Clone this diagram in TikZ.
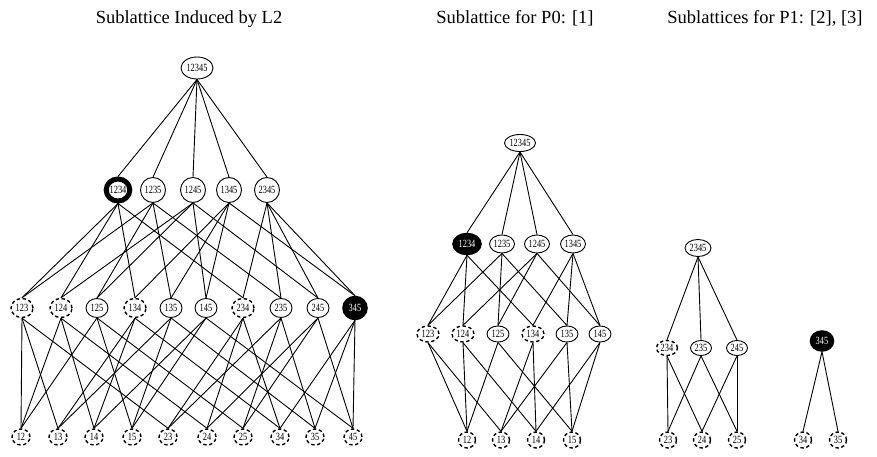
\documentclass[tikz,border=0pt]{standalone}
\usepackage{fontspec}
\setmainfont{Liberation Serif}
\newfontfamily\lblfont[FakeStretch=0.76]{Liberation Serif}
\usetikzlibrary{shapes.geometric}
\tikzset{
  nd/.style={ellipse, draw=black, line width=0.9pt, fill=white, inner sep=0pt,
    font=\lblfont\fontsize{11}{11}\selectfont},
  dsh/.style={nd, line width=1.4pt, dash pattern=on 3.4pt off 2.6pt},
  mk/.style={nd, line width=4.5pt, fill=black, text=white},
  mkw/.style={nd, line width=5pt, fill=white, text=black},
  edge/.style={line width=0.9pt, black},
  ttl/.style={font=\fontsize{18.5}{20}\selectfont, anchor=base, inner sep=0pt},
  % sizes
  LT/.style={minimum width=32pt, minimum height=22pt},
  L4/.style={minimum width=25pt, minimum height=25pt},
  L3/.style={minimum width=22pt, minimum height=19pt},
  L2/.style={minimum width=18pt, minimum height=16pt},
  MT/.style={minimum width=31pt, minimum height=17pt},
  M4/.style={minimum width=25pt, minimum height=18pt},
  M3/.style={minimum width=22pt, minimum height=16pt},
  M2/.style={minimum width=17pt, minimum height=16pt},
  R3/.style={minimum width=21pt, minimum height=15pt},
}
\begin{document}
\begin{tikzpicture}[x=1pt,y=-1pt]
\useasboundingbox (0,0) rectangle (877,457);
% titles
\node[ttl] (t1) at (189,24) {Sublattice Induced by L2};
\node[ttl] (t2) at (515,24) {Sublattice for P0: [1]};
\node[ttl] (t3) at (765,24) {Sublattices for P1: [2], [3]};

% ---------- Left lattice ----------
\node[nd,LT] (L12345) at (197,68) {12345};
\node[mkw,minimum width=22pt,minimum height=22pt] (L1234) at (118,190) {1234};
\node[nd,L4] (L1235) at (153,190) {1235};
\node[nd,L4] (L1245) at (193,190) {1245};
\node[nd,L4] (L1345) at (229,190) {1345};
\node[nd,L4] (L2345) at (267,190) {2345};

\node[dsh,L3] (L123) at (22,308) {123};
\node[dsh,L3] (L124) at (61,308) {124};
\node[nd,L3]  (L125) at (97,308) {125};
\node[dsh,L3] (L134) at (135,308) {134};
\node[nd,L3]  (L135) at (171,308) {135};
\node[nd,L3]  (L145) at (206,308) {145};
\node[dsh,L3] (L234) at (243,308) {234};
\node[nd,L3]  (L235) at (281,308) {235};
\node[nd,L3]  (L245) at (318,308) {245};
\node[mk,minimum width=21pt,minimum height=20pt] (L345) at (355,308) {345};

\foreach \n/\x in {12/21,13/58,14/94,15/132,23/168,24/207,25/243,34/280,35/315,45/353}
  \node[dsh,L2] (L\n) at (\x,437) {\n};

\foreach \a in {1234,1235,1245,1345,2345}
  \draw[edge] (L12345.south) -- (L\a.north);
\foreach \a/\b in {1234/123,1234/124,1234/134,1234/234,
                   1235/123,1235/125,1235/135,1235/235,
                   1245/124,1245/125,1245/145,1245/245,
                   1345/134,1345/135,1345/145,1345/345,
                   2345/234,2345/235,2345/245,2345/345}
  \draw[edge] (L\a.south) -- (L\b.north);
\foreach \a/\b in {123/12,123/13,123/23,124/12,124/14,124/24,125/12,125/15,125/25,
                   134/13,134/14,134/34,135/13,135/15,135/35,145/14,145/15,145/45,
                   234/23,234/24,234/34,235/23,235/25,235/35,245/24,245/25,245/45,
                   345/34,345/35,345/45}
  \draw[edge] (L\a.south) -- (L\b.north);

% ---------- Middle lattice ----------
\node[nd,MT] (M12345) at (520,143) {12345};
\node[mk,minimum width=25pt,minimum height=18pt] (M1234) at (467,244) {1234};
\node[nd,M4] (M1235) at (502,244) {1235};
\node[nd,M4] (M1245) at (537,244) {1245};
\node[nd,M4] (M1345) at (573,244) {1345};

\node[dsh,M3] (M123) at (428,334) {123};
\node[dsh,M3] (M124) at (463,334) {124};
\node[nd,M3]  (M125) at (498,334) {125};
\node[dsh,M3] (M134) at (533,334) {134};
\node[nd,M3]  (M135) at (567,334) {135};
\node[nd,M3]  (M145) at (600,334) {145};

\foreach \n/\x in {12/467,13/501,14/536,15/572}
  \node[dsh,M2] (M\n) at (\x,440) {\n};

\foreach \a in {1234,1235,1245,1345}
  \draw[edge] (M12345.south) -- (M\a.north);
\foreach \a/\b in {1234/123,1234/124,1234/134,1235/123,1235/125,1235/135,
                   1245/124,1245/125,1245/145,1345/134,1345/135,1345/145}
  \draw[edge] (M\a.south) -- (M\b.north);
\foreach \a/\b in {123/12,123/13,124/12,124/14,125/12,125/15,
                   134/13,134/14,135/13,135/15,145/14,145/15}
  \draw[edge] (M\a.south) -- (M\b.north);

% ---------- Right lattices ----------
\node[nd,minimum width=26pt,minimum height=17pt] (R2345) at (698,248) {2345};
\node[dsh,R3] (R234) at (667,348) {234};
\node[nd,R3]  (R235) at (701,348) {235};
\node[nd,R3]  (R245) at (737,348) {245};
\node[dsh,M2] (R23) at (668,440) {23};
\node[dsh,M2] (R24) at (702,440) {24};
\node[dsh,M2] (R25) at (737,440) {25};

\node[mk,minimum width=20pt,minimum height=17pt] (R345) at (822,341) {345};
\node[dsh,M2] (R34) at (803,440) {34};
\node[dsh,M2] (R35) at (838,440) {35};

\foreach \a in {234,235,245}
  \draw[edge] (R2345.south) -- (R\a.north);
\foreach \a/\b in {234/23,234/24,235/23,235/25,245/24,245/25}
  \draw[edge] (R\a.south) -- (R\b.north);
\foreach \b in {34,35}
  \draw[edge] (R345.south) -- (R\b.north);
\end{tikzpicture}
\end{document}
